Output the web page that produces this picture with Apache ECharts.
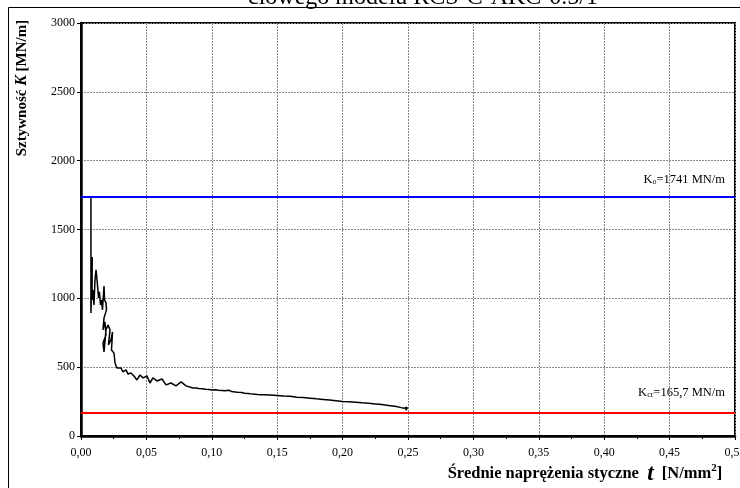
<!DOCTYPE html>
<html><head><meta charset="utf-8">
<script src="https://cdn.jsdelivr.net/npm/echarts@6/dist/echarts.min.js"></script>
<style>html,body{margin:0;padding:0;background:#fff}#c{width:740px;height:488px}</style>
</head><body><div id="c"></div>
<script>
const titleText = 'ciowego modelu RCS-C-AKC-0.5/1';
const xTicks = [0,0.05,0.10,0.15,0.20,0.25,0.30,0.35,0.40,0.45,0.50];
const yTicks = [0,500,1000,1500,2000,2500,3000];
const K0 = 1741;
const Kcr = 165.7;
const stiffness = [
[0.0076,1741],[0.0076,894],[0.0080,1050],[0.0086,1301],[0.0084,989],[0.0092,1061],[0.0099,952],[0.0107,1134],[0.0115,1207],
[0.0126,1098],[0.0134,1003],[0.0141,1047],[0.0149,952],[0.0157,989],[0.0164,916],[0.0176,1090],[0.0180,989],[0.0191,967],
[0.0195,916],[0.0176,858],[0.0168,771],[0.0183,829],[0.0191,734],[0.0168,676],[0.0176,611],[0.0191,771],[0.0206,807],
[0.0222,771],[0.0210,662],[0.0229,698],[0.0241,756],[0.0233,625],[0.0252,603],[0.0260,531],[0.0275,494],[0.0287,480],
[0.0306,494],[0.0321,465],[0.0344,480],[0.0359,451],[0.0382,458],[0.0405,436],[0.0428,407],[0.0451,443],[0.0474,422],
[0.0505,436],[0.0527,385],[0.0550,422],[0.0581,400],[0.0619,414],[0.0650,371],[0.0688,385],[0.0726,364],[0.0765,393],
[0.0803,364],[0.0856,349],[0.0880,348],[0.0900,345],[0.0930,344],[0.0950,340],[0.0980,338],[0.1000,334],[0.1030,336],
[0.1050,332],[0.1080,331],[0.1100,329],[0.1130,332],[0.1150,324],[0.1180,320],[0.1200,318],[0.1230,316],[0.1250,311],
[0.1280,308],[0.1300,306],[0.1330,303],[0.1350,301],[0.1380,299],[0.1400,299],[0.1450,297],[0.1500,295],[0.1550,291],
[0.1600,288],[0.1650,282],[0.1700,279],[0.1750,275],[0.1800,270],[0.1850,266],[0.1900,262],[0.1950,256],[0.2000,250],
[0.2050,249],[0.2100,246],[0.2150,241],[0.2200,238],[0.2250,233],[0.2300,228],[0.2350,222],[0.2400,216],[0.2450,206],
[0.2480,202],[0.2490,186],[0.2482,210],[0.2500,200]
];
const chart = echarts.init(document.getElementById('c'));
const serif = '"Liberation Serif", "Times New Roman", serif';
chart.setOption({
  animation:false,
  backgroundColor:'#fff',
  grid:{left:81,right:5,top:23,bottom:52,outerBoundsMode:'none',containLabel:false,show:true,borderColor:'#000',borderWidth:2,backgroundColor:'transparent'},
  xAxis:{type:'value',min:xTicks[0],max:xTicks[xTicks.length-1],interval:0.05,
    axisLine:{onZero:false,lineStyle:{color:'#000',width:2.5}},
    axisTick:{show:true,length:4,lineStyle:{color:'#000'}},
    minorTick:{show:true,splitNumber:2,length:3,lineStyle:{color:'#000'}},
    splitLine:{show:true,lineStyle:{color:'#888',type:[2,1],width:1}},
    axisLabel:{fontFamily:serif,fontSize:12,color:'#000',margin:11,formatter:v=>v.toFixed(2).replace('.',',')}},
  yAxis:{type:'value',min:yTicks[0],max:yTicks[yTicks.length-1],interval:500,
    axisLine:{show:true,lineStyle:{color:'#000',width:2.5}},
    axisTick:{show:true,length:4,lineStyle:{color:'#000'}},
    splitLine:{show:true,lineStyle:{color:'#888',type:[2,1],width:1}},
    axisLabel:{fontFamily:serif,fontSize:12,color:'#000',margin:6,formatter:v=>String(v)}},
  graphic:[
    {type:'rect',shape:{x:8.5,y:7.5,width:800,height:600},style:{fill:'none',stroke:'#000',lineWidth:1},z:-1},
    {type:'text',left:248,top:-14,style:{text:titleText,font:'24px '+serif,fill:'#000'}},
    {type:'text',x:22,y:88,rotation:Math.PI/2,style:{
      text:'{b|Sztywność }{i|K}{b| [MN/m]}',align:'center',verticalAlign:'middle',
      rich:{b:{fontFamily:serif,fontWeight:'bold',fontSize:15,fill:'#000'},i:{fontFamily:serif,fontWeight:'bold',fontStyle:'italic',fontSize:16,fill:'#000'}}}},
    {type:'text',x:585,y:474,style:{
      text:'{b|Średnie naprężenia styczne  }{i|t}{b|  [N/mm}{s|2}{b|]}',align:'center',verticalAlign:'middle',
      rich:{b:{fontFamily:serif,fontWeight:'bold',fontSize:16.5,fill:'#000'},i:{fontFamily:serif,fontWeight:'bold',fontStyle:'italic',fontSize:23,fill:'#000'},s:{fontFamily:serif,fontWeight:'bold',fontSize:11,fill:'#000',verticalAlign:'top',padding:[0,0,9,0]}}}}
  ],
  series:[{type:'line',data:stiffness,showSymbol:false,symbol:'none',lineStyle:{color:'#000',width:1.5},
    markLine:{silent:true,symbol:'none',
      data:[
        {yAxis:K0,lineStyle:{color:'#0000ff',width:2,type:'solid'},
          label:{position:'insideEndTop',distance:[10,10],formatter:'{a|K}{s|o}{a|=1741 MN/m}',
            rich:{a:{fontFamily:serif,fontSize:12.5,color:'#000'},s:{fontFamily:serif,fontSize:8,color:'#000',padding:[5,0,0,0]}}}},
        {yAxis:Kcr,lineStyle:{color:'#ff0000',width:2,type:'solid'},
          label:{position:'insideEndTop',distance:[10,14],formatter:'{a|K}{s|cr}{a|=165,7 MN/m}',
            rich:{a:{fontFamily:serif,fontSize:12.5,color:'#000'},s:{fontFamily:serif,fontSize:8,color:'#000',padding:[5,0,0,0]}}}}
      ]}}]
});
</script></body></html>
